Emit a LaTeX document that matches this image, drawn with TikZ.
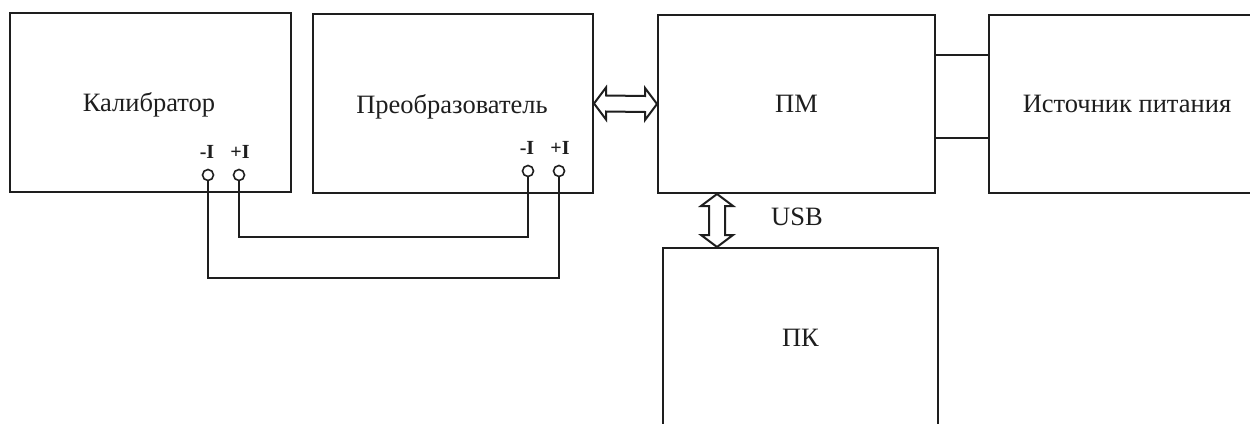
\documentclass[tikz,border=0pt]{standalone}
\usepackage{fontspec}
\setmainfont{Liberation Serif}
\usetikzlibrary{calc}
\definecolor{ink}{HTML}{1E1E1E}
\tikzset{
  blk/.style={draw=ink, line width=2pt, rectangle, inner sep=0pt, text=ink,
              font=\fontsize{26.5}{30}\selectfont},
  btext/.style={text=ink, inner sep=0pt, font=\fontsize{26.5}{30}\selectfont},
  term/.style={draw=ink, line width=1.6pt, circle, minimum size=11pt, inner sep=0pt, fill=white},
  tlabel/.style={text=ink, inner sep=0pt, font=\fontsize{20}{24}\selectfont\bfseries},
  wire/.style={draw=ink, line width=1.6pt},
  barrow/.style={draw=ink, line width=2pt, line join=miter, fill=white}
}
\begin{document}
\begin{tikzpicture}[x=1pt,y=-1pt]
\clip (0,0) rectangle (1250,423);
\fill[white] (0,0) rectangle (1250,423);
% blocks
\node[blk, minimum width=281pt, minimum height=179pt] (cal) at (150.5,102.5) {};
\node[btext] (caltxt) at (149,105) {Калибратор};
\node[blk, minimum width=280pt, minimum height=179pt] (conv) at (453,103.5) {};
\node[btext] (convtxt) at (452,107) {Преобразователь};
\node[blk, minimum width=277pt, minimum height=178pt] (pm) at (796.5,104) {ПМ};
\node[blk, minimum width=276pt, minimum height=178pt] (src) at (1127,104) {Источник питания};
\node[blk, minimum width=275pt, minimum height=180pt] (pk) at (800.5,338) {ПК};
% terminals
\node[term] (cm) at (208,175) {};
\node[term] (cp) at (239,175) {};
\node[tlabel] (cml) at (207,152) {-I};
\node[tlabel] (cpl) at (240,152) {+I};
\node[term] (dm) at (528,171) {};
\node[term] (dp) at (559,171) {};
\node[tlabel] (dml) at (527,148) {-I};
\node[tlabel] (dpl) at (560,148) {+I};
% wires
\draw[wire] (cp.south) -- (cp |- 0,237) -| (dm.south);
\draw[wire] (cm.south) -- (cm |- 0,278) -| (dp.south);
% power lines
\draw[wire, line width=1.8pt] (pm.east |- 0,55) -- (src.west |- 0,55);
\draw[wire, line width=1.8pt] (pm.east |- 0,138) -- (src.west |- 0,138);
% horizontal double block arrow
\coordinate (ha) at (conv.east);
\coordinate (hb) at (pm.west);
\draw[barrow] (ha) -- ++(12,-16) -- ++(0,8) -- ($(hb)+(-12,-8)$) -- ++(0,-8) -- (hb)
  -- ++(-12,16) -- ++(0,-8) -- ($(ha)+(12,8)$) -- ++(0,8) -- cycle;
% vertical double block arrow (USB)
\coordinate (va) at ([xshift=-79.5pt]pm.south);
\coordinate (vb) at (va |- pk.north);
\draw[barrow] (va) -- ++(-16,12) -- ++(8,0) -- ($(vb)+(-8,-12)$) -- ++(-8,0) -- (vb)
  -- ++(16,-12) -- ++(-8,0) -- ($(va)+(8,12)$) -- ++(8,0) -- cycle;
\node[btext] (usb) at (797,217) {USB};
\end{tikzpicture}
\end{document}
